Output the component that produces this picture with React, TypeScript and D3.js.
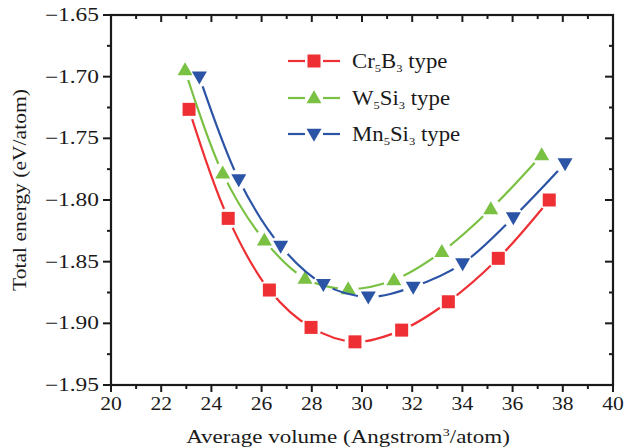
import React from "react";
import * as d3 from "d3";

const xTicks = [20, 22, 24, 26, 28, 30, 32, 34, 36, 38, 40];
const yTicks = [-1.65, -1.7, -1.75, -1.8, -1.85, -1.9, -1.95];

const cr5b3X = [23.11, 24.67, 26.31, 27.97, 29.72, 31.58, 33.44, 35.43, 37.46];
const cr5b3Y = [-1.7265, -1.8149, -1.873, -1.9033, -1.915, -1.9055, -1.8825, -1.8473, -1.8];

const w5si3X = [22.95, 24.45, 26.11, 27.73, 29.45, 31.27, 33.18, 35.13, 37.16];
const w5si3Y = [-1.6946, -1.7784, -1.8327, -1.8636, -1.8722, -1.8649, -1.842, -1.8073, -1.7635];

const mn5si3X = [23.52, 25.09, 26.76, 28.46, 30.25, 32.04, 34.01, 36.03, 38.09];
const mn5si3Y = [-1.7, -1.7833, -1.8373, -1.8682, -1.8785, -1.8704, -1.8514, -1.8141, -1.7703];

const seriesNames = [
  { a: "Cr", s1: "5", b: "B", s2: "3" },
  { a: "W", s1: "5", b: "Si", s2: "3" },
  { a: "Mn", s1: "5", b: "Si", s2: "3" },
];

const W = 624;
const H = 448;
const M = { left: 111, right: 613, top: 15, bottom: 385 };
const FONT = "'Liberation Serif', 'Times New Roman', serif";

const RED = "#EE3035";
const GREEN = "#7AC143";
const BLUE = "#2C54A6";

function Marker({ kind, x, y, color }: { kind: string; x: number; y: number; color: string }) {
  if (kind === "square") {
    const s = 13;
    return <rect x={x - s / 2} y={y - s / 2} width={s} height={s} fill={color} />;
  }
  if (kind === "up") {
    const w = 15, h = 13;
    return <path d={`M${x},${y - h * 0.6}L${x + w / 2},${y + h * 0.4}L${x - w / 2},${y + h * 0.4}Z`} fill={color} />;
  }
  const w = 15, h = 13;
  return <path d={`M${x},${y + h * 0.6}L${x + w / 2},${y - h * 0.4}L${x - w / 2},${y - h * 0.4}Z`} fill={color} />;
}

export default function App() {
  const x = d3.scaleLinear().domain([20, 40]).range([M.left, M.right]);
  const y = d3.scaleLinear().domain([-1.95, -1.65]).range([M.bottom, M.top]);

  const series = [
    { id: "cr", xs: cr5b3X, ys: cr5b3Y, color: RED, kind: "square" },
    { id: "w", xs: w5si3X, ys: w5si3Y, color: GREEN, kind: "up" },
    { id: "mn", xs: mn5si3X, ys: mn5si3Y, color: BLUE, kind: "down" },
  ];

  const line = d3
    .line<[number, number]>()
    .x((d) => x(d[0]))
    .y((d) => y(d[1]))
    .curve(d3.curveCatmullRom.alpha(0.5));

  const minorX = d3.range(21, 40, 2);
  const minorY = d3.range(0, 6).map((i) => -1.925 + i * 0.05);

  const legendRows = [61, 98, 134];

  return (
    <svg width={W} height={H} style={{ position: "absolute", left: 0, top: 0 }}>
      <rect width={W} height={H} fill="#fff" />
      <defs>
        {series.map((s) => (
          <mask id={`m-${s.id}`} key={s.id} maskUnits="userSpaceOnUse" x={0} y={0} width={W} height={H}>
            <rect width={W} height={H} fill="#fff" />
            {s.xs.map((v, i) => (
              <circle key={i} cx={x(v)} cy={y(s.ys[i])} r={10.5} fill="#000" />
            ))}
          </mask>
        ))}
      </defs>

      {series.map((s) => {
        const pts = s.xs.map((v, i) => [v, s.ys[i]] as [number, number]);
        return (
          <g key={s.id}>
            <path d={line(pts) || ""} fill="none" stroke={s.color} strokeWidth={2.2} mask={`url(#m-${s.id})`} />
            {pts.map((p, i) => (
              <Marker key={i} kind={s.kind} x={x(p[0])} y={y(p[1])} color={s.color} />
            ))}
          </g>
        );
      })}

      <rect x={M.left} y={M.top} width={M.right - M.left} height={M.bottom - M.top} fill="none" stroke="#1a1a1a" strokeWidth={2.2} />

      {xTicks.map((t) => (
        <g key={`xt${t}`}>
          <line x1={x(t)} x2={x(t)} y1={M.bottom} y2={M.bottom + 7} stroke="#1a1a1a" strokeWidth={2} />
          <line x1={x(t)} x2={x(t)} y1={M.top} y2={M.top + 7} stroke="#1a1a1a" strokeWidth={2} />
        </g>
      ))}
      {minorX.map((t) => (
        <g key={`xm${t}`}>
          <line x1={x(t)} x2={x(t)} y1={M.bottom} y2={M.bottom + 4} stroke="#1a1a1a" strokeWidth={2} />
          <line x1={x(t)} x2={x(t)} y1={M.top} y2={M.top + 4} stroke="#1a1a1a" strokeWidth={2} />
        </g>
      ))}
      {yTicks.map((t) => (
        <g key={`yt${t}`}>
          <line x1={M.left - 8} x2={M.left} y1={y(t)} y2={y(t)} stroke="#1a1a1a" strokeWidth={2} />
          <line x1={M.right - 8} x2={M.right} y1={y(t)} y2={y(t)} stroke="#1a1a1a" strokeWidth={2} />
        </g>
      ))}
      {minorY.map((t, i) => (
        <g key={`ym${i}`}>
          <line x1={M.left - 4} x2={M.left} y1={y(t)} y2={y(t)} stroke="#1a1a1a" strokeWidth={2} />
          <line x1={M.right - 4} x2={M.right} y1={y(t)} y2={y(t)} stroke="#1a1a1a" strokeWidth={2} />
        </g>
      ))}

      {xTicks.map((t) => (
        <text
          key={`xl${t}`}
          transform={`translate(${x(t)},${410}) scale(1.2,1)`}
          textAnchor="middle"
          fontFamily={FONT}
          fontSize={18}
          fill="#1a1a1a"
        >
          {t}
        </text>
      ))}
      {yTicks.map((t) => (
        <text
          key={`yl${t}`}
          transform={`translate(${M.left - 12},${y(t) + 6}) scale(1.3,1)`}
          textAnchor="end"
          fontFamily={FONT}
          fontSize={18}
          fill="#1a1a1a"
        >
          {"\u2212" + Math.abs(t).toFixed(2)}
        </text>
      ))}

      <text
        transform={`translate(${(M.left + M.right) / 2 - 14},${443}) scale(1.28,1)`}
        textAnchor="middle"
        fontFamily={FONT}
        fontSize={18}
        fill="#1a1a1a"
      >
        Average volume (Angstrom
        <tspan fontSize={11} dy={-7}>3</tspan>
        <tspan dy={7}>/atom)</tspan>
      </text>
      <text
        transform={`translate(26,${190}) rotate(-90) scale(1.2,1)`}
        textAnchor="middle"
        fontFamily={FONT}
        fontSize={18}
        fill="#1a1a1a"
      >
        Total energy (eV/atom)
      </text>

      {series.map((s, i) => {
        const ly = legendRows[i];
        const n = seriesNames[i];
        return (
          <g key={`lg${s.id}`}>
            <line x1={288} x2={305} y1={ly} y2={ly} stroke={s.color} strokeWidth={2.2} />
            <line x1={323} x2={340} y1={ly} y2={ly} stroke={s.color} strokeWidth={2.2} />
            <Marker kind={s.kind} x={314} y={ly} color={s.color} />
            <text
              transform={`translate(352,${ly + 7}) scale(1.14,1)`}
              fontFamily={FONT}
              fontSize={20}
              fill="#1a1a1a"
            >
              {n.a}
              <tspan fontSize={11} dy={4}>{n.s1}</tspan>
              <tspan dy={-4}>{n.b}</tspan>
              <tspan fontSize={11} dy={4}>{n.s2}</tspan>
              <tspan dy={-4}>{" type"}</tspan>
            </text>
          </g>
        );
      })}
    </svg>
  );
}
